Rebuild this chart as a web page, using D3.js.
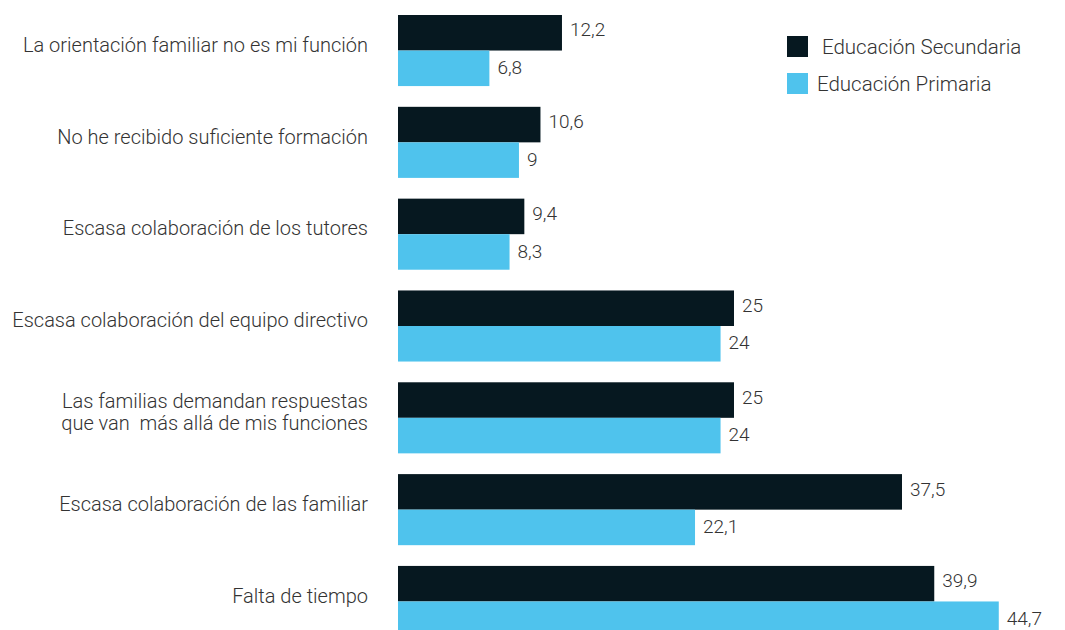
<!DOCTYPE html>
<html>
<head>
<meta charset="utf-8">
<script src="https://cdn.jsdelivr.net/npm/d3@7"></script>
<style>
  body { margin: 0; background: #fff; }
  text { font-family: Roboto, "Noto Sans", sans-serif; font-weight: 300; fill: #333; white-space: pre; }
</style>
</head>
<body>
<div id="chart"></div>
<script>
// categories, top to bottom
var categories = [
  ["La orientación familiar no es mi función"],
  ["No he recibido suficiente formación"],
  ["Escasa colaboración de los tutores"],
  ["Escasa colaboración del equipo directivo"],
  ["Las familias demandan respuestas", "que van  más allá de mis funciones"],
  ["Escasa colaboración de las familiar"],
  ["Falta de tiempo"]
];
var secundaria = [12.2, 10.6, 9.4, 25, 25, 37.5, 39.9];
var primaria = [6.8, 9, 8.3, 24, 24, 22.1, 44.7];
var seriesNames = [" Educación Secundaria", "Educación Primaria"];
var colors = ["#061820", "#4fc3ed"];

var width = 1065, height = 630;

var svg = d3.select("#chart").append("svg")
    .attr("width", width)
    .attr("height", height);

var keys = categories.map(function(d, i) { return "c" + i; });

// one band per category, holding both bars
var y = d3.scaleBand()
    .domain(keys)
    .range([15, 637])
    .paddingInner(0.226)
    .paddingOuter(0);

var ySub = d3.scaleBand()
    .domain([0, 1])
    .range([0, y.bandwidth()]);

var x = d3.scaleLinear()
    .domain([0, 50])
    .range([398, 1070]);

var rows = categories.map(function(c, i) {
  return { key: keys[i], label: c, values: [secundaria[i], primaria[i]] };
});

var group = svg.selectAll(".group")
    .data(rows)
    .enter().append("g")
    .attr("class", "group")
    .attr("transform", function(d) { return "translate(0," + y(d.key) + ")"; });

group.selectAll("rect")
    .data(function(d) { return d.values; })
    .enter().append("rect")
    .attr("x", x(0))
    .attr("y", function(d, j) { return ySub(j); })
    .attr("width", function(d) { return x(d) - x(0); })
    .attr("height", ySub.bandwidth())
    .attr("fill", function(d, j) { return colors[j]; });

// value labels
group.selectAll(".val")
    .data(function(d) { return d.values; })
    .enter().append("text")
    .attr("class", "val")
    .attr("x", function(d) { return x(d) + 8; })
    .attr("y", function(d, j) { return ySub(j) + ySub.bandwidth() / 2 - (j === 0 ? 3 : 1); })
    .attr("dy", "0.35em")
    .style("font-size", "19px")
    .text(function(d) { return String(d).replace(".", ","); });

// category labels, sitting a little above the middle of the band
var lab = group.append("text")
    .attr("class", "cat")
    .attr("text-anchor", "end")
    .style("font-size", "20px")
    .attr("y", y.bandwidth() * 0.42);

lab.selectAll("tspan")
    .data(function(d) { return d.label; })
    .enter().append("tspan")
    .attr("x", 368)
    .attr("dy", function(d, j, nodes) {
      var n = nodes.length;
      return j === 0 ? (0.35 - (n - 1) * 0.55) + "em" : "1.1em";
    })
    .text(function(d) { return d; });

// legend
var legend = svg.selectAll(".legend")
    .data(seriesNames)
    .enter().append("g")
    .attr("class", "legend")
    .attr("transform", function(d, i) { return "translate(787," + (36 + i * 37) + ")"; });

legend.append("rect")
    .attr("width", 21)
    .attr("height", 21)
    .attr("fill", function(d, i) { return colors[i]; });

legend.append("text")
    .attr("x", 30)
    .attr("y", 10.5)
    .attr("dy", "0.35em")
    .style("font-size", "20.5px")
    .text(function(d) { return d; });
</script>
</body>
</html>
